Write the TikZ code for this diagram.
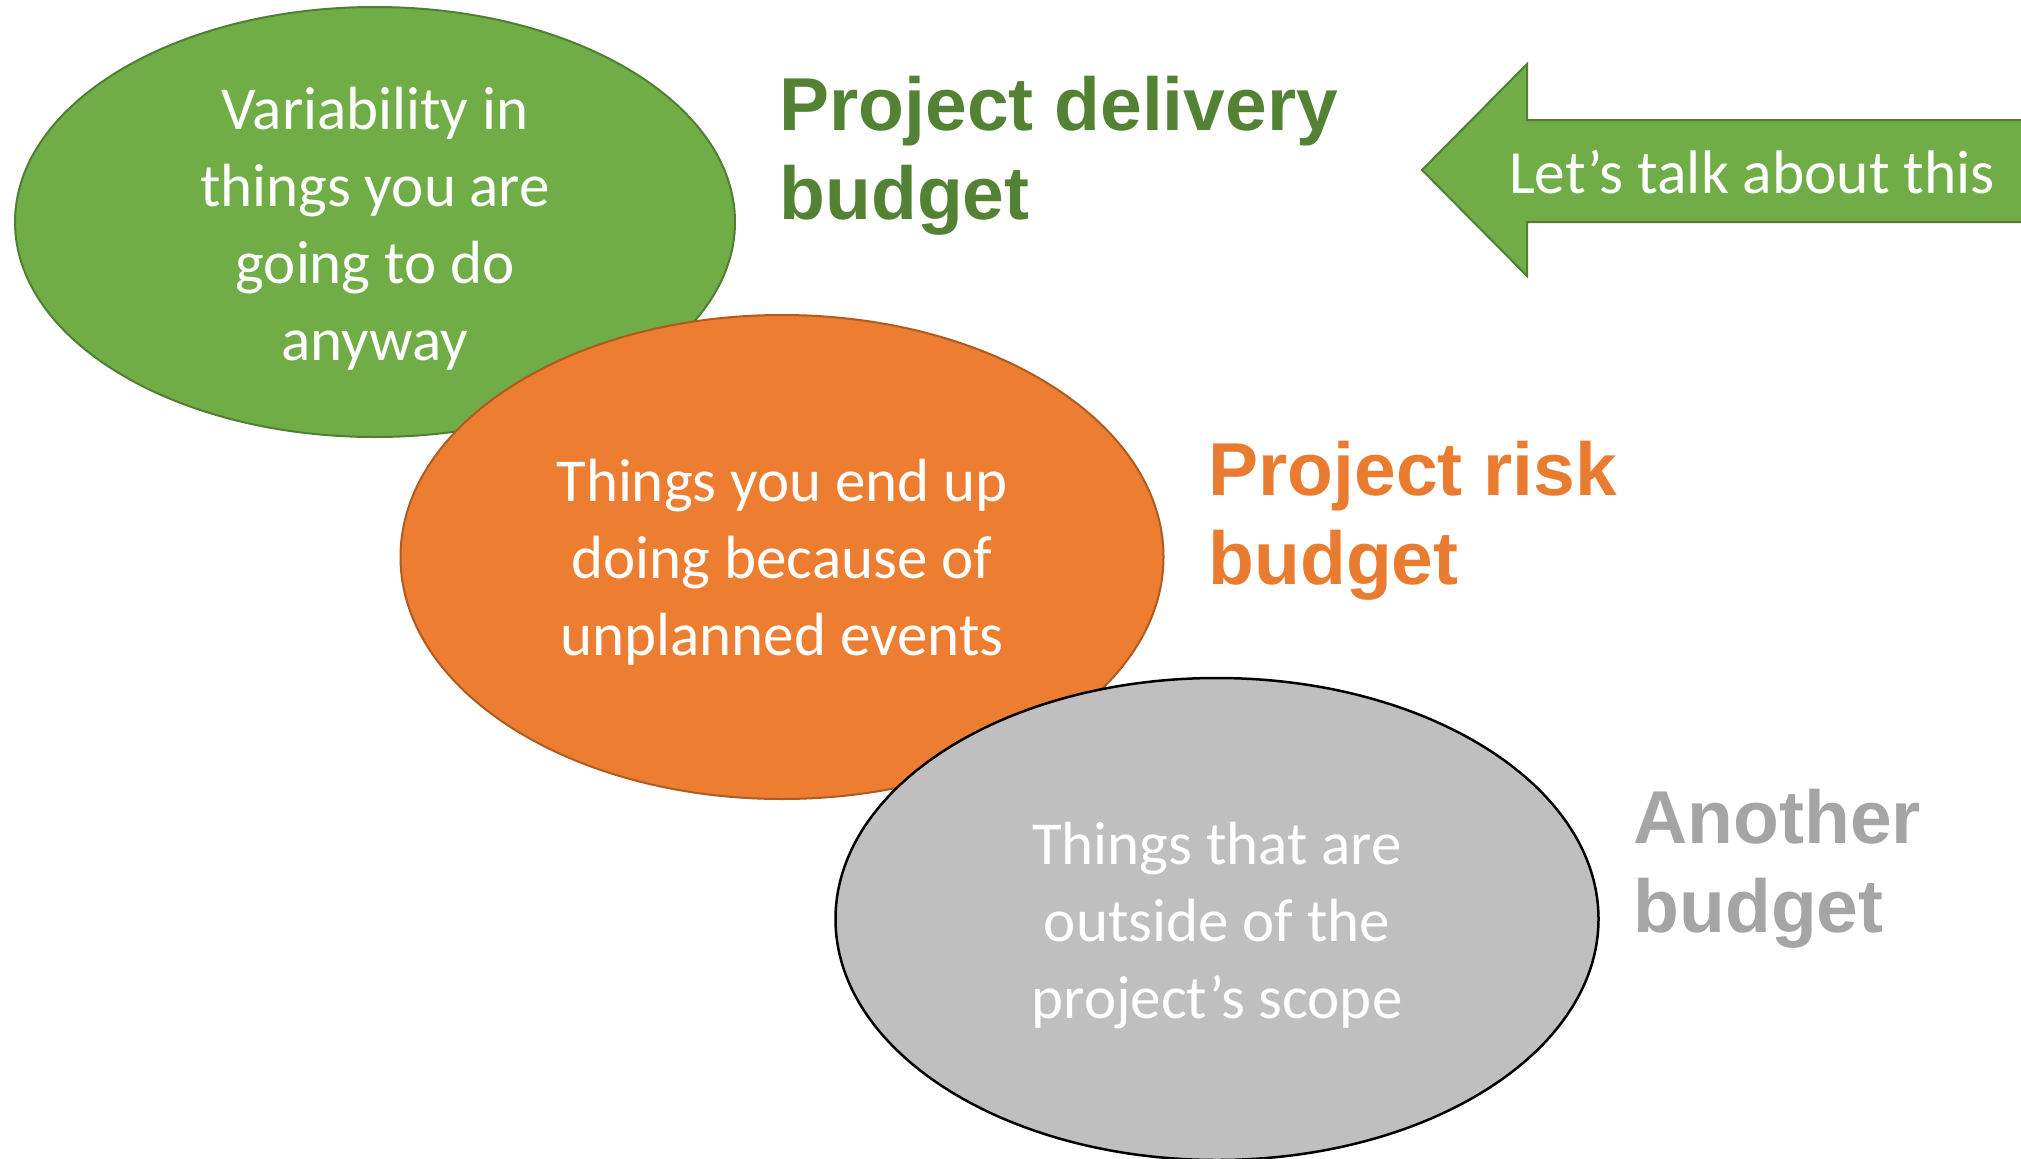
\documentclass[tikz,border=0pt]{standalone}
\usepackage{fontspec}
\setmainfont{Carlito}
\newfontfamily\headfont{Liberation Sans}
\usetikzlibrary{shapes.geometric}
\definecolor{gfill}{HTML}{70AD47}
\definecolor{gline}{HTML}{507E32}
\definecolor{gtext}{HTML}{548235}
\definecolor{ofill}{HTML}{ED7D31}
\definecolor{oline}{HTML}{AE5A21}
\definecolor{otext}{HTML}{E97C30}
\definecolor{sfill}{HTML}{BFBFBF}
\definecolor{stext}{HTML}{A5A5A5}
\tikzset{
  blob/.style={ellipse, inner sep=0pt, line width=2pt},
  bodytext/.style={text=white, align=center, font=\fontsize{61}{77}\selectfont},
  headtext/.style={anchor=west, align=left, font=\headfont\bfseries\fontsize{75}{89}\selectfont},
}
\begin{document}
\begin{tikzpicture}[x=1pt,y=-1pt]
\useasboundingbox (0,0) rectangle (2021,1159);
\clip (0,0) rectangle (2021,1159);
% ellipses
\node[blob, draw=gline, fill=gfill, minimum width=720, minimum height=430] (g) at (375,222) {};
\node[bodytext] (gt) at ([yshift=-7pt]g.center) {Variability in\\things you are\\going to do\\anyway};
\node[blob, draw=oline, fill=ofill, minimum width=763, minimum height=484] (o) at (782,557) {};
\node[bodytext] (ot) at ([yshift=-5pt]o.center) {Things you end up\\doing because of\\unplanned events};
\node[blob, draw=black, fill=sfill, minimum width=763, minimum height=482, line width=2.5pt] (s) at (1217,919) {};
\node[bodytext] (st) at ([yshift=-7pt]s.center) {Things that are\\outside of the\\project’s scope};
% headings
\node[headtext, text=gtext] (h1) at (776,156) {Project delivery\\budget};
\node[headtext, text=otext] (h2) at (1205,521) {Project risk\\budget};
\node[headtext, text=stext] (h3) at (1630,869) {Another\\budget};
% arrow
\draw[fill=gfill, draw=gline, line width=2pt, line join=miter]
  (1422,170) -- (1527,64) -- (1527,120) -- (2040,120) -- (2040,222) -- (1527,222) -- (1527,276) -- cycle;
\node[bodytext, font=\fontsize{61.5}{77}\selectfont] (at) at (1752,172) {Let’s talk about this};
\end{tikzpicture}
\end{document}
